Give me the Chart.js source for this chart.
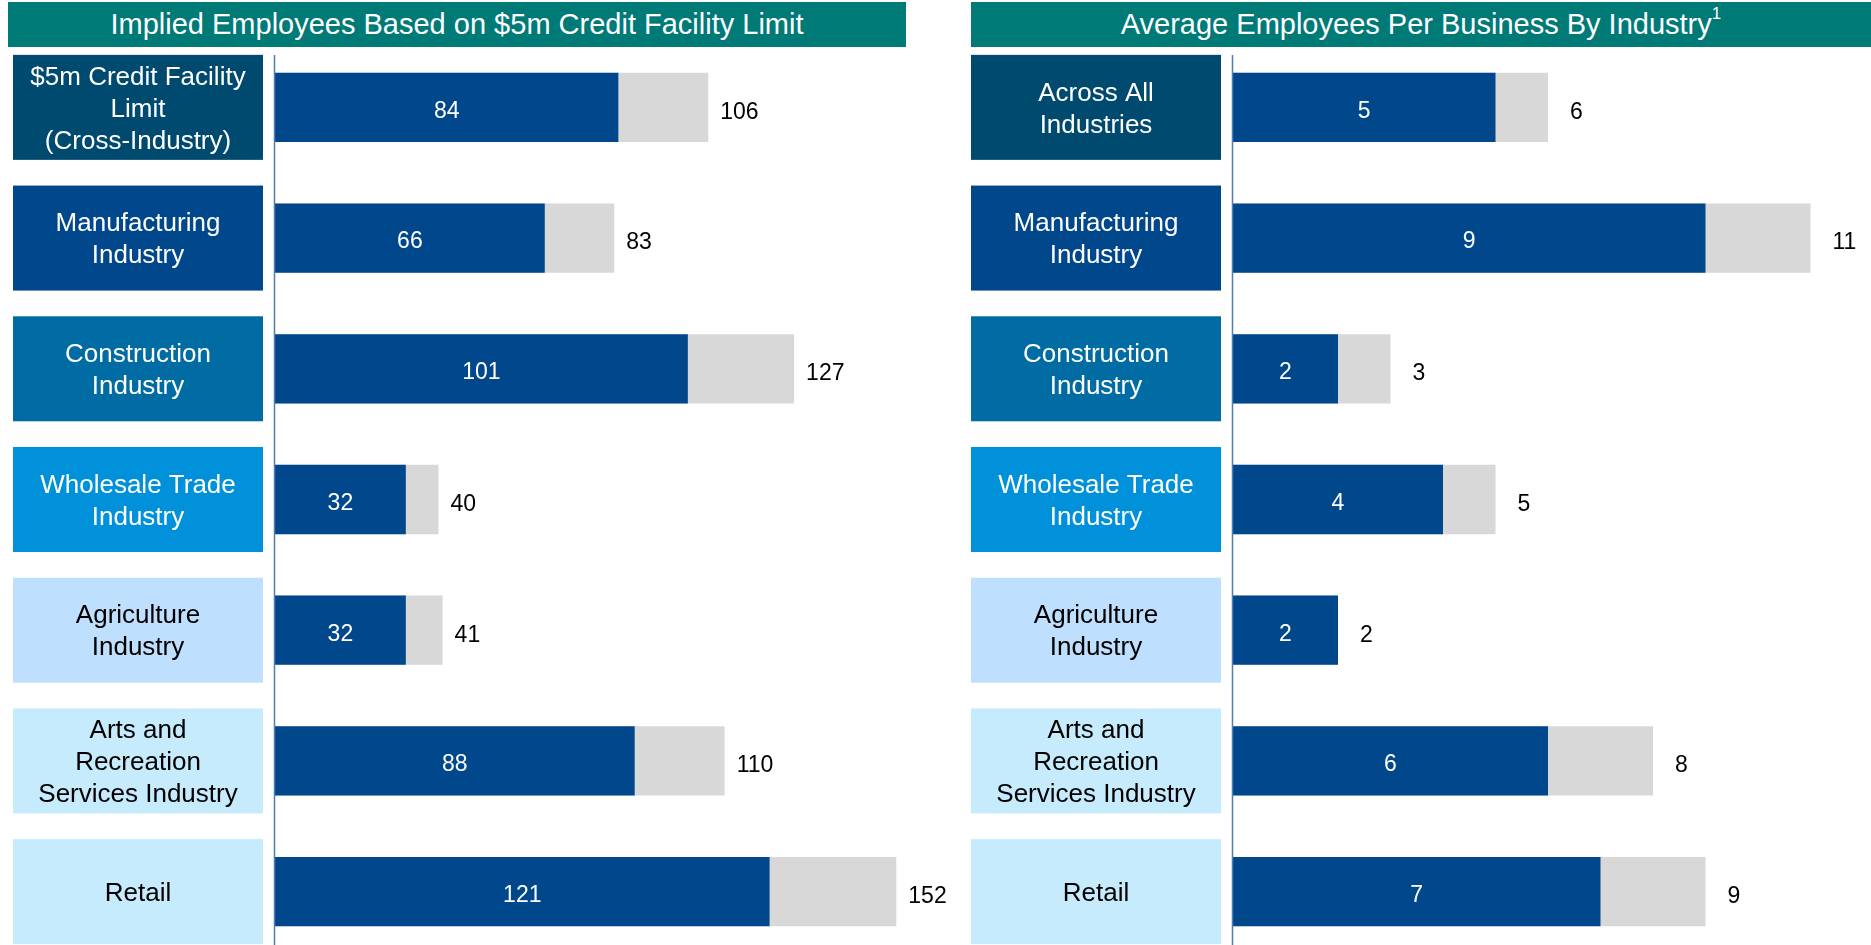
<!DOCTYPE html>
<html>
<head>
<meta charset="utf-8">
<title>Implied Employees</title>
<script src="https://cdn.jsdelivr.net/npm/chart.js@4.4.1/dist/chart.umd.min.js"></script>
<style>
  html, body { margin: 0; padding: 0; width: 1871px; height: 945px; overflow: hidden; background: #fff; }
  body { font-family: "Liberation Sans", Arial, sans-serif; position: relative; }
  .header {
    position: absolute; top: 2px; height: 45px; line-height: 45px;
    background: #007A77; color: #fff; font-size: 29px;
    text-align: center; white-space: nowrap;
  }
  .header sup { font-size: 17px; position: relative; top: -3px; vertical-align: top; line-height: 30px; }
  canvas { position: absolute; top: 0; }
</style>
</head>
<body>
<div class="header" style="left:8px;width:898px">Implied Employees Based on $5m Credit Facility Limit</div>
<div class="header" style="left:971px;width:900px">Average Employees Per Business By Industry<sup>1</sup></div>
<canvas id="leftChart" width="960" height="960" style="left:0"></canvas>
<canvas id="rightChart" width="911" height="960" style="left:960px"></canvas>

<script>
// --- data ---
const leftCategories = [
  ['$5m Credit Facility', 'Limit', '(Cross-Industry)'],
  ['Manufacturing', 'Industry'],
  ['Construction', 'Industry'],
  ['Wholesale Trade', 'Industry'],
  ['Agriculture', 'Industry'],
  ['Arts and', 'Recreation', 'Services Industry'],
  ['Retail']
];
const rightCategories = [
  ['Across All', 'Industries'],
  ['Manufacturing', 'Industry'],
  ['Construction', 'Industry'],
  ['Wholesale Trade', 'Industry'],
  ['Agriculture', 'Industry'],
  ['Arts and', 'Recreation', 'Services Industry'],
  ['Retail']
];
const impliedLow  = [84, 66, 101, 32, 32, 88, 121];
const impliedHigh = [106, 83, 127, 40, 41, 110, 152];
const avgLow  = [5, 9, 2, 4, 2, 6, 7];
const avgHigh = [6, 11, 3, 5, 2, 8, 9];

// --- styles ---
const boxColors = ['#00496F', '#00478B', '#006CA3', '#0091DA', '#BEDFFE', '#C5EBFC', '#C5EBFC'];
const boxText = ['#fff', '#fff', '#fff', '#fff', '#000', '#000', '#000'];
const FONT = '"Liberation Sans", Arial, sans-serif';

function panelPlugin(opts) {
  return {
    id: 'panel',
    beforeDatasetsDraw(chart) {
      const ctx = chart.ctx;
      const yScale = chart.scales.y;
      ctx.save();
      ctx.font = '26px ' + FONT;
      ctx.textAlign = 'center';
      ctx.textBaseline = 'middle';
      chart.data.labels.forEach((lines, i) => {
        const c = yScale.getPixelForValue(i);
        ctx.fillStyle = boxColors[i];
        ctx.fillRect(opts.boxLeft, c - 52.5, opts.boxWidth, 105);
        ctx.fillStyle = boxText[i];
        const x = opts.boxLeft + opts.boxWidth / 2;
        lines.forEach((t, j) => {
          ctx.fillText(t, x, c + 2 + (j - (lines.length - 1) / 2) * 32);
        });
      });
      ctx.restore();
    },
    afterDatasetsDraw(chart) {
      const ctx = chart.ctx;
      const area = chart.chartArea;
      ctx.save();
      // axis line
      ctx.strokeStyle = '#4F7DB5';
      ctx.lineWidth = 1.5;
      ctx.beginPath();
      ctx.moveTo(area.left - 0.5, 55);
      ctx.lineTo(area.left - 0.5, chart.height);
      ctx.stroke();

      ctx.font = '23px ' + FONT;
      ctx.textBaseline = 'middle';
      const low = chart.getDatasetMeta(0).data;
      const high = chart.getDatasetMeta(1).data;
      low.forEach((bar, i) => {
        ctx.fillStyle = '#fff';
        ctx.textAlign = 'center';
        ctx.fillText(chart.data.datasets[0].data[i], (bar.base + bar.x) / 2, bar.y + 4);
      });
      high.forEach((bar, i) => {
        ctx.fillStyle = '#000';
        ctx.textAlign = 'left';
        ctx.fillText(chart.data.datasets[1].data[i], bar.x + opts.gap, bar.y + 5);
      });
      ctx.restore();
    }
  };
}

function makeChart(id, labels, low, high, max, padding, opts) {
  return new Chart(document.getElementById(id), {
    type: 'bar',
    data: {
      labels: labels,
      datasets: [
        { data: low, backgroundColor: '#00478B', grouped: false },
        { data: high, backgroundColor: '#D8D8D8', grouped: false }
      ]
    },
    options: {
      indexAxis: 'y',
      responsive: false,
      animation: false,
      layout: { padding: padding },
      barPercentage: 0.53,
      categoryPercentage: 1,
      plugins: { legend: { display: false }, tooltip: { enabled: false } },
      scales: {
        x: { type: 'linear', min: 0, max: max, display: false },
        y: { type: 'category', offset: true, display: false }
      }
    },
    plugins: [panelPlugin(opts)]
  });
}

makeChart('leftChart', leftCategories, impliedLow, impliedHigh, 160,
  { left: 275, right: 31, top: 42, bottom: 3 },
  { boxLeft: 13, boxWidth: 250, gap: 12 });

makeChart('rightChart', rightCategories, avgLow, avgHigh, 12,
  { left: 273, right: 8, top: 42, bottom: 3 },
  { boxLeft: 11, boxWidth: 250, gap: 22 });
</script>
</body>
</html>
